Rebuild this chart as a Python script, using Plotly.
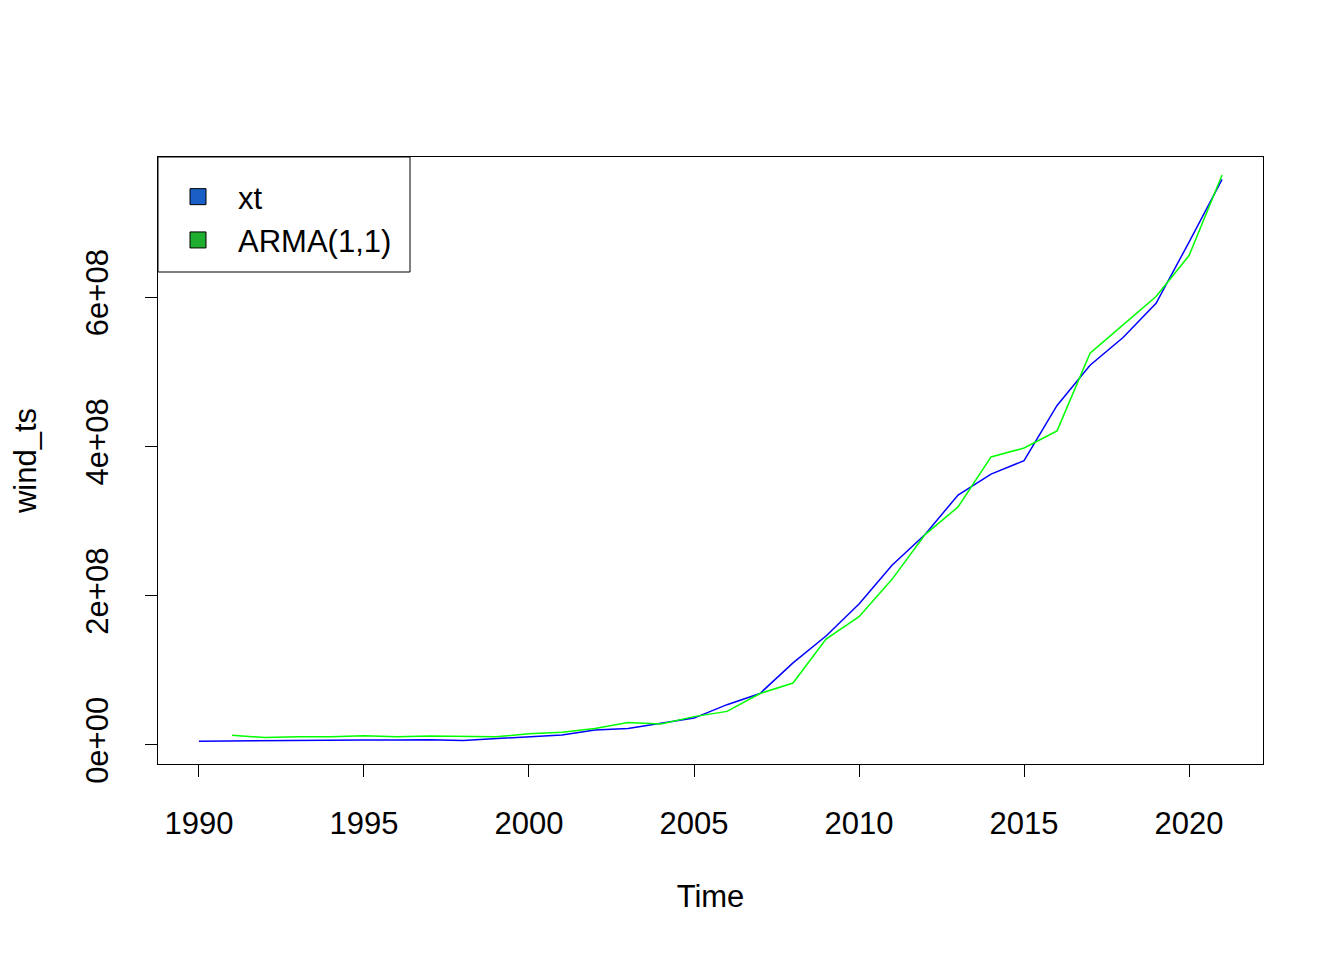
import plotly.graph_objects as go

years_xt = list(range(1990, 2022))
xt = [5e6, 5.5e6, 5.5e6, 6e6, 6.5e6, 6.5e6, 6.5e6, 7e6, 6e6, 8.5e6,
      1.1e7, 1.35e7, 2.0e7, 2.2e7, 2.9e7, 3.6e7, 5.4e7, 6.9e7, 1.10e8, 1.46e8,
      1.89e8, 2.41e8, 2.82e8, 3.35e8, 3.63e8, 3.81e8, 4.55e8, 5.09e8, 5.46e8, 5.92e8,
      6.74e8, 7.58e8]

years_arma = list(range(1991, 2022))
arma = [1.3e7, 1.0e7, 1.1e7, 1.1e7, 1.25e7, 1.1e7, 1.2e7, 1.15e7, 1.1e7,
        1.5e7, 1.7e7, 2.2e7, 3.0e7, 2.8e7, 3.8e7, 4.5e7, 6.9e7, 8.3e7, 1.42e8,
        1.72e8, 2.22e8, 2.82e8, 3.19e8, 3.86e8, 3.98e8, 4.21e8, 5.25e8, 5.63e8, 6.01e8,
        6.56e8, 7.64e8]

x_ticks = [1990, 1995, 2000, 2005, 2010, 2015, 2020]
y_ticks = [0, 2e8, 4e8, 6e8]
y_labels = ["0e+00", "2e+08", "4e+08", "6e+08"]

legend_names = ["xt", "ARMA(1,1)"]
legend_colors = ["#1a5fc6", "#1fae30"]

FONT = "Liberation Sans, Arial, sans-serif"

W, H = 1336, 952
ML, MR, MT, MB = 150, 81, 149, 196
PW, PH = W - ML - MR, H - MT - MB

fig = go.Figure()
fig.add_trace(go.Scatter(x=years_xt, y=xt, mode="lines",
                         line=dict(color="#0000ff", width=1.5), showlegend=False))
fig.add_trace(go.Scatter(x=years_arma, y=arma, mode="lines",
                         line=dict(color="#00ff00", width=1.5), showlegend=False))
for name, col in zip(legend_names, legend_colors):
    fig.add_trace(go.Scatter(x=[None], y=[None], mode="markers", name=name,
                             marker=dict(symbol="square", size=16, color=col,
                                         line=dict(color="black", width=1))))

# legend frame (R-style box in the top-left corner)
fig.add_shape(type="rect", xref="paper", yref="paper",
              x0=0, x1=252 / PW, y0=1 - 115 / PH, y1=1,
              line=dict(color="black", width=1), fillcolor="white", layer="above")

fig.update_layout(
    width=W, height=H,
    margin=dict(l=ML, r=MR, t=MT, b=MB, autoexpand=False),
    paper_bgcolor="white", plot_bgcolor="white",
    font=dict(family=FONT, size=31, color="black"),
    showlegend=True,
    legend=dict(x=0, y=1 - 13 / PH, xanchor="left", yanchor="top",
                borderwidth=0, bgcolor="rgba(0,0,0,0)",
                font=dict(size=31), itemwidth=70, tracegroupgap=0),
)
fig.update_xaxes(range=[1988.76, 2022.24], tickvals=x_ticks, ticks="outside",
                 ticklen=12, tickwidth=1, tickcolor="black", ticklabelstandoff=20,
                 showline=True, linecolor="black", linewidth=1, mirror=True,
                 showgrid=False, zeroline=False, automargin=False,
                 title=dict(text="Time", standoff=45, font=dict(size=31)))
fig.update_yaxes(range=[-2.55e7, 7.88e8], tickvals=y_ticks, ticktext=y_labels,
                 tickangle=-90, ticks="outside",
                 ticklen=12, tickwidth=1, tickcolor="black", ticklabelstandoff=25,
                 showline=True, linecolor="black", linewidth=1, mirror=True,
                 showgrid=False, zeroline=False, automargin=False,
                 title=dict(text="wind_ts", standoff=40, font=dict(size=31)))

fig.write_html("out.html")
